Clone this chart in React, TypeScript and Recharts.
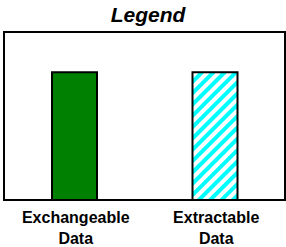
import React from "react";
import { BarChart, Bar, XAxis, YAxis, ReferenceArea, Cell } from "recharts";

const categories = ["Exchangeable Data", "Extractable Data"];
const values = [0.76, 0.76];
const data = categories.map((name, i) => ({ name, value: values[i] }));

const FONT = "'Liberation Sans', Arial, sans-serif";

const Tick = (props: any) => {
  const { x, y, payload } = props;
  const words = String(payload.value).split(" ");
  return (
    <text x={x + 1.5} y={y} textAnchor="middle" fontFamily={FONT} fontWeight="bold" fontSize={16} fill="#000">
      {words.map((w: string, i: number) => (
        <tspan key={i} x={x + 1.5} dy={i === 0 ? 15 : 21}>
          {w}
        </tspan>
      ))}
    </text>
  );
};

export default function App() {
  return (
    <div style={{ position: "absolute", left: 0, top: 0, width: 286, height: 247, background: "#fff" }}>
      <div
        style={{
          position: "absolute",
          left: 0,
          top: 3,
          width: 296,
          textAlign: "center",
          fontFamily: FONT,
          fontWeight: "bold",
          fontStyle: "italic",
          fontSize: 21,
          lineHeight: "24px",
        }}
      >
        Legend
      </div>
      <BarChart
        width={286}
        height={247}
        data={data}
        margin={{ top: 32, right: 1, bottom: 0, left: 4 }}
        barSize={45}
      >
        <defs>
          <pattern id="hatch" patternUnits="userSpaceOnUse" width="8" height="8" patternTransform="rotate(45)">
            <rect x="0" y="0" width="8" height="8" fill="#fff" />
            <rect x="0" y="0" width="4" height="8" fill="#00ffff" />
          </pattern>
        </defs>
        <XAxis dataKey="name" axisLine={false} tickLine={false} tick={<Tick />} interval={0} height={47} />
        <YAxis hide domain={[0, 1]} />
        <Bar dataKey="value" isAnimationActive={false} stroke="#000" strokeWidth={2}>
          <Cell fill="#008000" />
          <Cell fill="url(#hatch)" />
        </Bar>
        <ReferenceArea y1={0} y2={1} fill="none" fillOpacity={0} stroke="#000" strokeWidth={2} />
      </BarChart>
    </div>
  );
}
